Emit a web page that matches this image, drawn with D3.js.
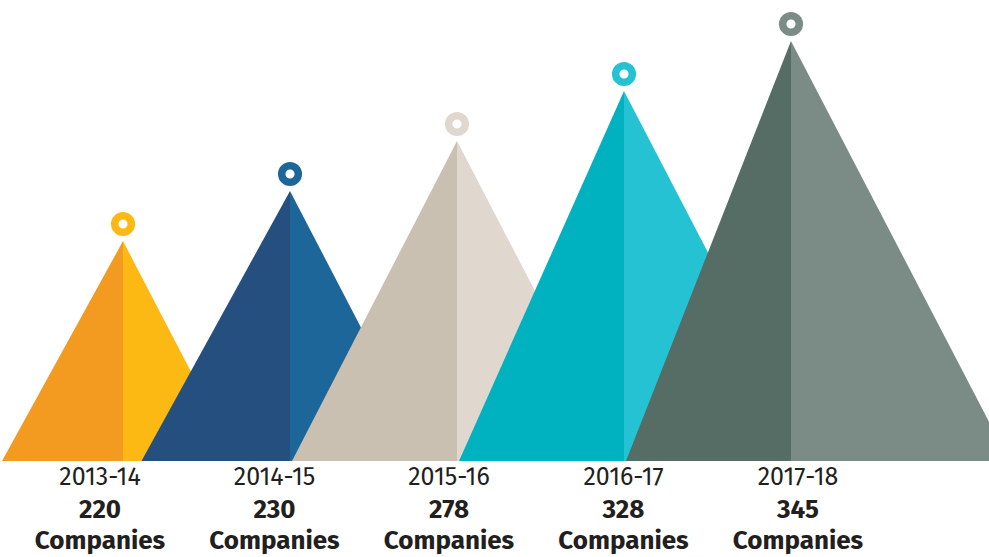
<!DOCTYPE html>
<html>
<head>
<meta charset="utf-8">
<script src="https://cdn.jsdelivr.net/npm/d3@7"></script>
<style>
  body { margin: 0; background: #fff; overflow: hidden; }
  svg { display: block; }
  text { font-family: "Fira Sans", "Open Sans", sans-serif; fill: #231f20; }
</style>
</head>
<body>
<div id="chart"></div>
<script>
// data
const years = ["2013-14", "2014-15", "2015-16", "2016-17", "2017-18"];
const companies = [220, 230, 278, 328, 345];
const leftColors = ["#f39a21", "#244f7f", "#c9c0b2", "#00b2c0", "#566d65"];
const rightColors = ["#fdb913", "#1c6699", "#e0d7ce", "#25c2d4", "#7b8c87"];

const width = 989, height = 557;
const baseY = 461;

const svg = d3.select("#chart")
    .append("svg")
    .attr("width", width)
    .attr("height", height);

// peaks step up by rank, labels sit on their own grid
const xPeak = d3.scalePoint().domain(years).range([123, 791]);
const xLabel = d3.scalePoint().domain(years).range([100, 798]);
const yPeak = d3.scalePoint().domain(years).range([baseY - 220, 41]);

const data = years.map((y, i) => {
    const h = baseY - yPeak(y);
    return {
        year: y,
        value: companies[i],
        cx: xPeak(y),
        top: yPeak(y),
        left: Math.min(0.55 * h, 165),
        right: 0.52 * h,
        c0: leftColors[i],
        c1: rightColors[i]
    };
});

const peaks = svg.append("g")
    .selectAll("g")
    .data(data)
    .join("g");

// left half
peaks.append("path")
    .attr("d", d => `M${d.cx},${d.top} L${d.cx - d.left},${baseY} L${d.cx},${baseY} Z`)
    .attr("fill", d => d.c0);

// right half
peaks.append("path")
    .attr("d", d => `M${d.cx},${d.top} L${d.cx + d.right},${baseY} L${d.cx},${baseY} Z`)
    .attr("fill", d => d.c1);

// ring on top of every peak
peaks.append("circle")
    .attr("cx", d => d.cx)
    .attr("cy", d => d.top - 17)
    .attr("r", 8.3)
    .attr("fill", "#fff")
    .attr("stroke", d => d.c1)
    .attr("stroke-width", 7.5);

const labels = svg.append("g")
    .selectAll("g")
    .data(data)
    .join("g")
    .attr("transform", d => `translate(${xLabel(d.year)},0)`)
    .attr("text-anchor", "middle");

labels.append("text")
    .attr("y", 485)
    .style("font-size", "25px")
    .text(d => d.year);

labels.append("text")
    .attr("y", 518)
    .style("font-size", "26px")
    .style("font-weight", "bold")
    .text(d => d.value);

labels.append("text")
    .attr("y", 549)
    .style("font-size", "26px")
    .style("font-weight", "bold")
    .text("Companies");
</script>
</body>
</html>
